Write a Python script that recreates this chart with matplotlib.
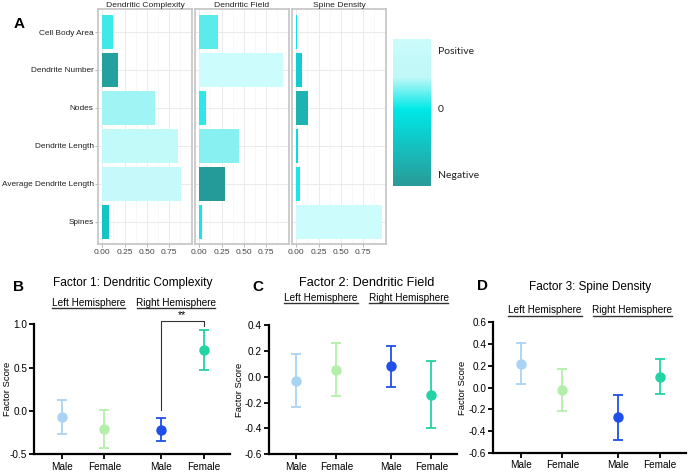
#!/usr/bin/env python3
"""
Factor loadings (A) and factor scores by hemisphere and sex (B-D).
"""

import numpy as np
import matplotlib.pyplot as plt
from matplotlib.colors import LinearSegmentedColormap, TwoSlopeNorm
from matplotlib.lines import Line2D

plt.rcParams['font.family'] = ['Liberation Sans', 'DejaVu Sans']

# ---- data ----
measures = ["Cell Body Area", "Dendrite Number", "Nodes", "Dendrite Length",
            "Average Dendrite Length", "Spines"]
factor_names = ["Dendritic Complexity", "Dendritic Field", "Spine Density"]
# signed loadings (bar length = |loading|, colour = sign/size)
load_complexity = [0.12, -0.18, 0.59, 0.85, 0.88, -0.08]
load_field = [0.21, 0.94, 0.08, 0.45, -0.29, 0.03]
load_spine = [0.01, -0.06, -0.13, -0.02, 0.04, 0.96]
loadings = [load_complexity, load_field, load_spine]
load_ticks = [0.0, 0.25, 0.5, 0.75]
load_ticklabels = ["0.00", "0.25", "0.50", "0.75"]

groups = ["Male", "Female", "Male", "Female"]
group_colors = ['#a9d3f5', '#b2f0a9', '#1f4fe8', '#22d3a3']

f1_mean = [-0.07, -0.21, -0.22, 0.70]
f1_sem = [0.20, 0.22, 0.135, 0.23]
f2_mean = [-0.03, 0.055, 0.08, -0.14]
f2_sem = [0.205, 0.205, 0.16, 0.26]
f3_mean = [0.22, -0.025, -0.275, 0.10]
f3_sem = [0.19, 0.195, 0.21, 0.16]

f1_yticks = [-0.5, 0.0, 0.5, 1.0]
f2_yticks = [-0.6, -0.4, -0.2, 0.0, 0.2, 0.4]
f3_yticks = [-0.6, -0.4, -0.2, 0.0, 0.2, 0.4, 0.6]

# ---- layout helpers (pixel positions in a 688x473 canvas) ----
W, H = 688, 473
fig = plt.figure(figsize=(W / 100, H / 100), dpi=100)


def px_rect(x0, y0, x1, y1):
    return [x0 / W, 1 - y1 / H, (x1 - x0) / W, (y1 - y0) / H]


def ftext(x, y, s, **kw):
    kw.setdefault('ha', 'center')
    kw.setdefault('va', 'center')
    return fig.text(x / W, 1 - y / H, s, **kw)


def fline(x0, x1, y, lw=1.0, color='#333333'):
    fig.add_artist(Line2D([x0 / W, x1 / W], [1 - y / H, 1 - y / H],
                          lw=lw, color=color, transform=fig.transFigure))


# ---- panel A: loadings ----
bar_cmap = LinearSegmentedColormap.from_list("load", [
    (0.0, '#249b98'), (0.25, '#1cbcbc'), (0.5, '#00e6e6'),
    (0.553, '#38e8e8'), (0.63, '#66ecec'), (0.737, '#88f0f0'),
    (0.816, '#a2f4f4'), (0.947, '#c2f9f9'), (1.0, '#cdfcfc')])
bar_norm = TwoSlopeNorm(vmin=-0.2, vcenter=0.0, vmax=0.95)

panel_x = [(98, 192), (195, 289), (292, 386)]
ypos = np.arange(len(measures))
for k, (vals, name) in enumerate(zip(loadings, factor_names)):
    ax = fig.add_axes(px_rect(panel_x[k][0], 9.3, panel_x[k][1], 244.5))
    vals = np.array(vals)
    ax.barh(ypos, np.abs(vals), height=0.9,
            color=bar_cmap(bar_norm(np.clip(vals, -0.2, 0.95))), zorder=2)
    ax.set_xlim(-0.048, 1.008)
    ax.set_ylim(len(measures) - 0.4, -0.6)
    ax.set_xticks(load_ticks)
    ax.set_xticklabels(load_ticklabels)
    ax.set_xticks([t + 0.125 for t in load_ticks], minor=True)
    ax.set_yticks(ypos)
    ax.grid(True, which='major', color='#e8e8e8', lw=0.6, zorder=0)
    ax.grid(True, which='minor', axis='x', color='#f3f3f3', lw=0.4, zorder=0)
    ax.tick_params(axis='both', which='major', length=2, width=0.5,
                   color='#999999', labelsize=6, labelcolor='#444444', pad=1.2)
    ax.tick_params(which='minor', length=0)
    if k == 0:
        ax.set_yticklabels(measures, fontsize=5.95, color='#222222')
    else:
        ax.tick_params(axis='y', length=0, labelleft=False)
    for s in ax.spines.values():
        s.set_color('#c4c4c4')
        s.set_linewidth(1.2)
    ax.set_title(name, fontsize=6.1, color='#222222', pad=1.5)

# legend colour bar
leg_cmap = LinearSegmentedColormap.from_list("leg", [
    (0.0, '#2a9a97'), (0.3, '#12c6c6'), (0.52, '#00e8e8'),
    (0.74, '#c0f8f8'), (1.0, '#cbfbfb')])
cax = fig.add_axes(px_rect(393, 39, 431, 186))
cax.imshow(np.linspace(0, 1, 256)[:, None], cmap=leg_cmap, aspect='auto',
           origin='lower')
cax.axis('off')
for lbl, yy in zip(["Positive", "0", "Negative"], [51, 109, 175]):
    ftext(438, yy, lbl, ha='left', fontsize=7.5, family='Lato',
          color='#222222')

ftext(19, 24, "A", fontsize=11, fontweight='bold')

# ---- panels B-D: factor scores ----
xpos = [1, 2, 3.33, 4.33]
panels = [
    dict(rect=(34.3, 324.3, 230, 454), mean=f1_mean, sem=f1_sem,
         yt=f1_yticks, title="Factor 1: Dendritic Complexity", tsize=8.6,
         tx=133, ty=283, letter="B", lx=18, ly=287, hy=302.7, uy=308.3,
         lh=(52, 125), rh=(137, 215), ylx=7.5),
    dict(rect=(269, 325, 456.7, 454.3), mean=f2_mean, sem=f2_sem,
         yt=f2_yticks, title="Factor 2: Dendritic Field", tsize=9.2,
         tx=366.7, ty=282.7, letter="C", lx=258, ly=287, hy=298.3, uy=303.3,
         lh=(284, 357.7), rh=(369, 448.3), ylx=239.5),
    dict(rect=(493.3, 322.3, 686, 452.7), mean=f3_mean, sem=f3_sem,
         yt=f3_yticks, title="Factor 3: Spine Density", tsize=8.5,
         tx=590, ty=286.7, letter="D", lx=483, ly=286, hy=310, uy=315.7,
         lh=(508, 581.7), rh=(592.7, 672.3), ylx=462.5),
]

for p in panels:
    x0, y0, x1, y1 = p['rect']
    ax = fig.add_axes(px_rect(x0, y0, x1, y1))
    for i in range(len(groups)):
        ax.errorbar(xpos[i], p['mean'][i], yerr=p['sem'][i], fmt='o',
                    color=group_colors[i], ms=6.5, capsize=3.3,
                    elinewidth=1.3, capthick=1.3, clip_on=False, zorder=3)
    ax.set_xlim(0.35, 4.95)
    ax.set_ylim(p['yt'][0], p['yt'][-1])
    ax.set_yticks(p['yt'])
    ax.set_yticklabels([f"{t:.1f}" for t in p['yt']])
    ax.set_xticks(xpos)
    ax.set_xticklabels(groups)
    for side in ['top', 'right']:
        ax.spines[side].set_visible(False)
    for side in ['left', 'bottom']:
        ax.spines[side].set_linewidth(1.6)
    ax.tick_params(direction='out', length=3.5, width=1.3, labelsize=7.2,
                   pad=1.5)
    ax.tick_params(axis='x', pad=2)

    ftext(p['ylx'], (y0 + y1) / 2, "Factor Score", rotation=90, fontsize=6.8)
    ftext(p['tx'], p['ty'], p['title'], fontsize=p['tsize'])
    ftext(p['lx'], p['ly'], p['letter'], fontsize=11, fontweight='bold')
    ftext(sum(p['lh']) / 2, p['hy'], "Left Hemisphere", fontsize=7.2)
    ftext(sum(p['rh']) / 2, p['hy'], "Right Hemisphere", fontsize=7.2)
    fline(p['lh'][0], p['lh'][1], p['uy'])
    fline(p['rh'][0], p['rh'][1], p['uy'])

    if p['letter'] == "B":
        # significance bracket between right-hemisphere male and female
        top = f1_mean[3] + f1_sem[3] + 0.11
        ax.plot([xpos[2], xpos[2], xpos[3], xpos[3]],
                [f1_mean[2] + f1_sem[2] + 0.09, top, top,
                 f1_mean[3] + f1_sem[3] + 0.05],
                color='#333333', lw=0.8, clip_on=False)
        ax.text((xpos[2] + xpos[3]) / 2, top + 0.005, "**", ha='center',
                va='bottom', fontsize=7.5)

fig.savefig("out.png", dpi=100)
